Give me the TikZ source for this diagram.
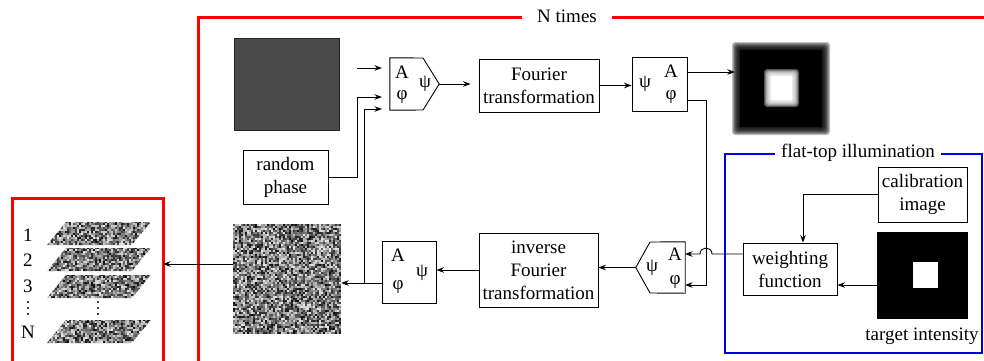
\documentclass[tikz,border=0pt]{standalone}
\usepackage{fontspec}
\setmainfont{Liberation Serif}
\newfontfamily\myserif{Liberation Serif}
\usetikzlibrary{arrows.meta,calc}
\newcommand\mynoise[4]{%
  \foreach \i in {0,...,#3}{\foreach \j in {0,...,#4}{%
    \pgfmathsetmacro\g{int(10+85*rnd)}%
    \fill[black!\g] ({#1+2*\i},{#2+2*\j}) rectangle +(2,2);}}}
\newcommand\mypara[1]{%
  \begin{scope}
  \clip (47,#1) -- (132,#1) -- (151,#1-23) -- (66,#1-23) -- cycle;
  \mynoise{47}{#1-24}{52}{12}
  \end{scope}}
\begin{document}
\begin{tikzpicture}[x=1pt,y=-1pt,
  every node/.style={font=\myserif\fontsize{19}{23}\selectfont, inner sep=0pt},
  box/.style={draw, line width=0.9pt, align=center},
  arr/.style={line width=0.9pt, -{Stealth[length=7.5pt,width=5.5pt]}},
  redl/.style={draw=red, line width=3pt},
  bluel/.style={draw={rgb,255:red,0;green,0;blue,230}, line width=2pt},
  vdot/.style={fill=black, circle, minimum size=2.4pt, inner sep=0pt}]
\useasboundingbox (0,0) rectangle (984,360);
\pgfmathsetseed{7}

% ---------- frames ----------
\node (ntimes) at (567,16) {N times};
\draw[redl] (522,17) -- (198,17) -- (198,362);
\draw[redl] (612,17) -- (986,17);
\draw[redl] (12,362) -- (12,198) -- (163,198) -- (163,362);
\node (flat) at (858,153) {flat-top illumination};
\draw[bluel] (775,154) -- (725,154) -- (725,353) -- (982,353) -- (982,154) -- (941,154);

% ---------- left stack ----------
\mypara{245}
\mypara{271}
\mypara{298}
\mypara{343}
\node (n1) at (28,235) {1};
\node (n2) at (28,260) {2};
\node (n3) at (28,286) {3};
\node (nN) at (28,332) {N};
\foreach \yy [count=\c] in {302,308,314}{
  \node[vdot] (dl\c) at (28,\yy) {};
  \node[vdot] (dm\c) at (98,\yy) {};
}
\coordinate (stack) at (163,264);

% ---------- images ----------
\node[fill=black!71, draw=black!85, line width=0.6pt, minimum width=105pt, minimum height=92pt] (amp) at (287,84) {};
\node[minimum width=108pt, minimum height=110pt] (noise) at (287,279) {};
\begin{scope}
\clip (233,224) rectangle (341,334);
\mynoise{233}{224}{53}{54}
\end{scope}

\node[minimum width=92pt, minimum height=87pt] (blur) at (781,88.5) {};
\foreach \k in {0,...,7}{\fill[black, opacity=0.25, rounded corners=3pt] (732+\k,42+\k) rectangle (830-\k,135-\k);}
\fill[black] (740,50) rectangle (822,127);
\foreach \k in {0,...,7}{\fill[white, opacity=0.3, rounded corners=3pt] (764+\k,69+\k) rectangle (799-\k,107-\k);}
\fill[white] (771,76) rectangle (792,100);

\node[fill=black, minimum width=91pt, minimum height=87pt] (target) at (922.5,275.5) {};
\fill[white] (913,262) rectangle (938,288);
\node (tlabel) at (922,336) {target intensity};

% ---------- boxes ----------
\node[box, minimum width=85pt, minimum height=54pt] (rp) at (285.5,177) {random\\phase};
\node[box, minimum width=120pt, minimum height=53pt] (ft) at (539,85.5) {Fourier\\transformation};
\node[box, minimum width=119pt, minimum height=74pt] (ift) at (538.5,270) {inverse\\Fourier\\transformation};
\node[box, minimum width=89pt, minimum height=55pt] (cal) at (922.5,194.5) {calibration\\image};
\node[box, minimum width=94pt, minimum height=52pt] (wf) at (790,269) {weighting\\function};

% box1 (pentagon pointing right)
\node[minimum width=49pt, minimum height=52pt] (b1) at (414.5,84) {};
\draw[line width=0.9pt] (b1.north west) -- (423,58) -- (b1.east) -- (423,110) -- (b1.south west) -- cycle;
\node (b1A) at (402,72) {A};
\node (b1p) at (402,97) {φ};
\node (b1s) at (425,84) {ψ};

% box2
\node[box, minimum width=55pt, minimum height=54pt] (b2) at (659.5,84) {};
\node (b2s) at (645,84) {ψ};
\node (b2A) at (671,71) {A};
\node (b2p) at (671,97) {φ};

% box3 (pentagon pointing left)
\node[minimum width=49pt, minimum height=51pt] (b3) at (660.5,267.5) {};
\draw[line width=0.9pt] (b3.north east) -- (650,242) -- (b3.west) -- (650,293) -- (b3.south east) -- cycle;
\node (b3s) at (652,268) {ψ};
\node (b3A) at (675,254) {A};
\node (b3p) at (675,282) {φ};

% box4
\node[box, minimum width=54pt, minimum height=62pt] (b4) at (409,272) {};
\node (b4A) at (398,255) {A};
\node (b4p) at (398,287) {φ};
\node (b4s) at (422,273) {ψ};

% ---------- connectors ----------
\coordinate (in1) at (357,68);
\coordinate (in1e) at (382,68);
\draw[arr] (in1) -- (in1e);
\draw[arr] (rp.east) -- (357,177) -- (357,97) -- (382,97);
\coordinate (j) at (364,283);
\draw[arr] (b4.west |- j) -- (noise.east |- j);
\draw[arr] (j) -- (364,109) -- (382,109);
\draw[arr, shorten >=8pt] (b1.east) -- (ft.west |- b1.east);
\draw[arr] (ft.east) -- (b2.west |- ft.east);
\draw[arr] (687,72) -- (blur.west |- 687,72);
\draw[arr] (687,100) -- (706,100) -- (706,285) -- (685,285);
\draw[arr] (wf.west |- 0,254) -- (712,254) .. controls (712,246) and (700,246) .. (700,254) -- (685,254);
\draw[arr] (b3.west) -- (ift.east |- b3.west);
\draw[arr] (ift.west) -- (b4.east |- ift.west);
\draw[arr] (noise.west |- stack) -- (stack);
\draw[arr] (cal.west) -- (803,194.5) -- (wf.north -| 803,0);
\draw[arr] (target.west |- 0,285) -- (wf.east |- 0,285);
\end{tikzpicture}
\end{document}
